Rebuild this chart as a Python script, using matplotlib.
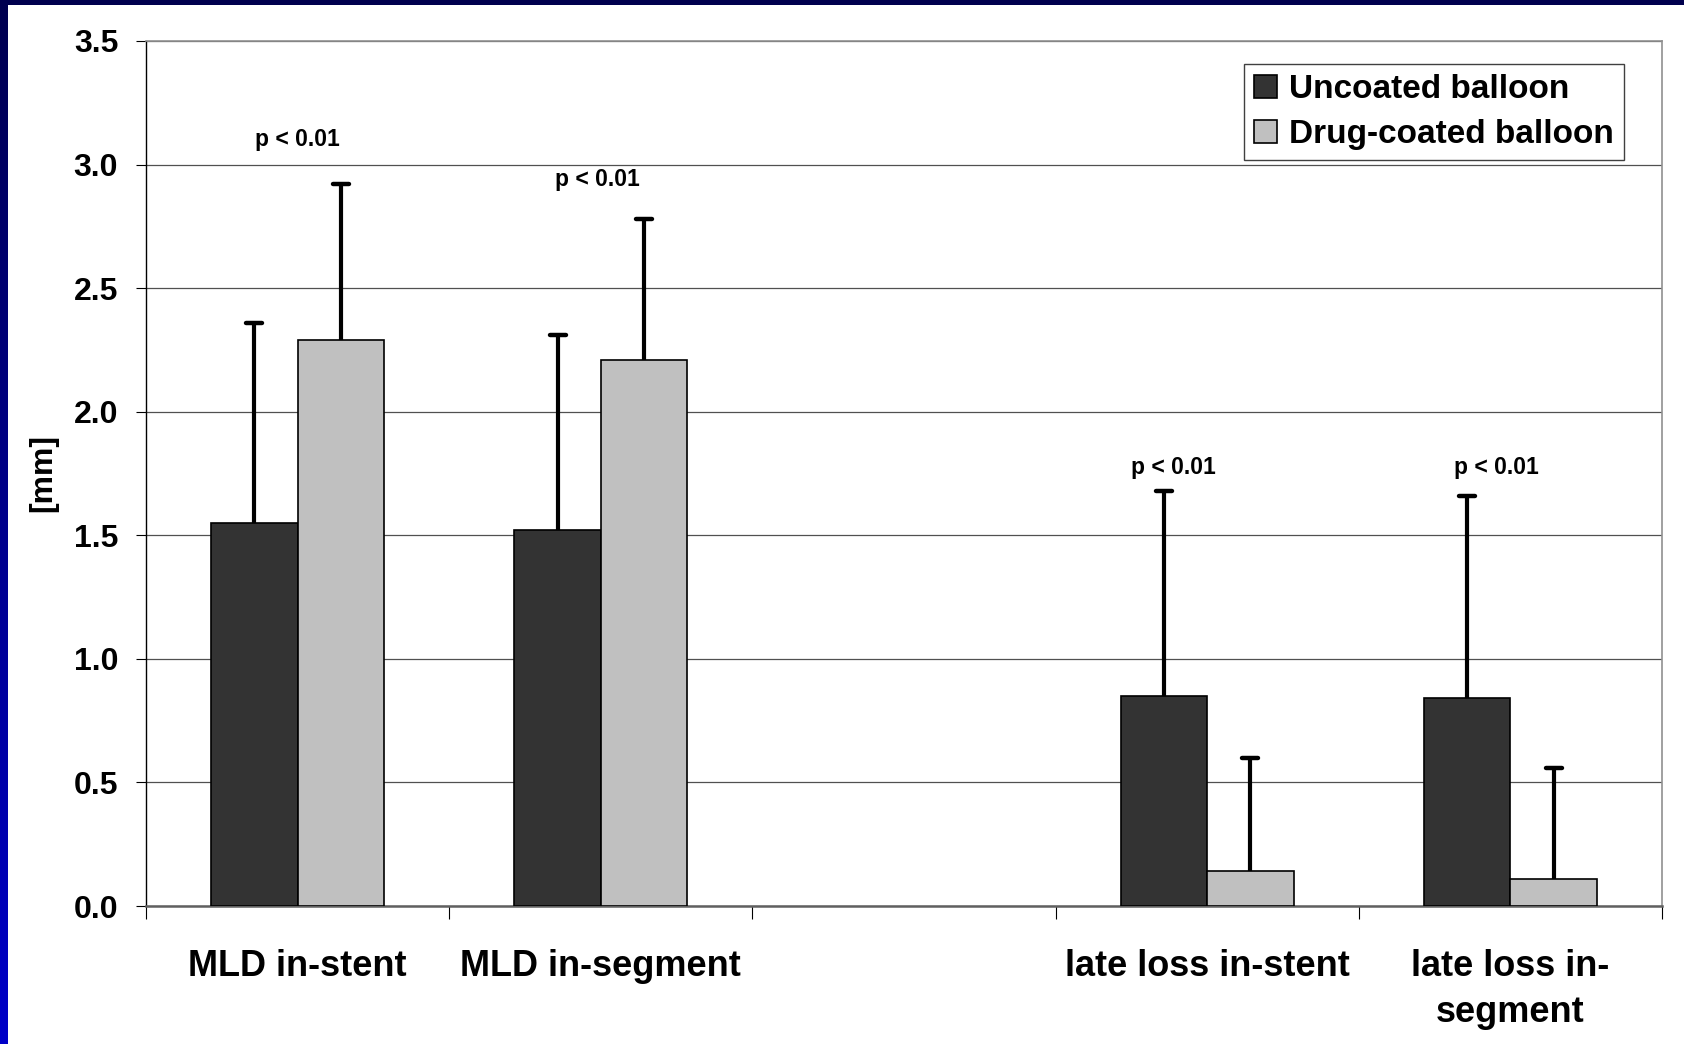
import numpy as np
import matplotlib
matplotlib.use("Agg")
import matplotlib.pyplot as plt
from matplotlib.markers import MarkerStyle
from matplotlib.colors import LinearSegmentedColormap

plt.rcParams['font.family'] = ['Liberation Sans', 'DejaVu Sans']
plt.rcParams['font.weight'] = 'bold'

# Quantitative coronary angiography results (mean + SD)
categories = ["MLD in-stent", "MLD in-segment", "", "late loss in-stent", "late loss in-\nsegment"]
series_names = ["Uncoated balloon", "Drug-coated balloon"]
uncoated_mean = [1.55, 1.52, np.nan, 0.85, 0.84]
uncoated_sd = [0.81, 0.79, np.nan, 0.83, 0.82]
dcb_mean = [2.29, 2.21, np.nan, 0.14, 0.11]
dcb_sd = [0.63, 0.57, np.nan, 0.46, 0.45]
p_labels = ["p < 0.01", "p < 0.01", "", "p < 0.01", "p < 0.01"]
p_label_y = [3.10, 2.94, np.nan, 1.775, 1.775]
p_label_shift = [0.0, -0.01, 0.0, -0.11, -0.045]
y_ticks = [0.0, 0.5, 1.0, 1.5, 2.0, 2.5, 3.0, 3.5]

colors = ["#333333", "#c0c0c0"]

W, H = 1684, 1044
fig = plt.figure(figsize=(W / 100, H / 100), dpi=100, facecolor="white")

# slide frame: navy band on top, blue gradient on the left
top_band = fig.add_axes([0, 1 - 5 / H, 1, 5 / H])
top_band.axis("off")
top_band.add_patch(plt.Rectangle((0, 0), 1, 1, color="#00004e", transform=top_band.transAxes))
left_band = fig.add_axes([0, 0, 8 / W, 1])
grad = np.linspace(0, 1, 256).reshape(-1, 1)
cmap = LinearSegmentedColormap.from_list("frame", ["#0000c8", "#000050"])
left_band.imshow(grad, aspect="auto", cmap=cmap, origin="lower", extent=[0, 1, 0, 1])
left_band.axis("off")

ax = fig.add_axes([146 / W, 1 - 906 / H, (1662 - 146) / W, (906 - 41) / H])

x = np.arange(len(categories))
bw = 0.285
unc = np.array(uncoated_mean)
dcb = np.array(dcb_mean)
unc_sd = np.array(uncoated_sd)
dcb_sd_a = np.array(dcb_sd)

ax.bar(x - bw / 2, unc, bw, color=colors[0], edgecolor="black", linewidth=1.2,
       label=series_names[0], zorder=3)
ax.bar(x + bw / 2, dcb, bw, color=colors[1], edgecolor="black", linewidth=1.2,
       label=series_names[1], zorder=3)

cap = MarkerStyle("_", capstyle="round")
for xs, m, s in [(x - bw / 2, unc, unc_sd), (x + bw / 2, dcb, dcb_sd_a)]:
    ax.errorbar(xs, m, yerr=[np.zeros_like(s), s], fmt="none", ecolor="black",
                elinewidth=3.0, capsize=0, zorder=4)
    ax.plot(xs, m + s, ls="none", marker=cap, ms=11.5, mew=3.2, color="black", zorder=4)

for xi, lab, yl, dx in zip(x, p_labels, p_label_y, p_label_shift):
    if lab:
        ax.text(xi + dx, yl, lab, ha="center", va="center", fontsize=16.5, fontweight="bold")

ax.set_xlim(-0.5, len(categories) - 0.5)
ax.set_ylim(0, 3.5)
ax.set_yticks(y_ticks)
ax.set_yticklabels([f"{v:.1f}" for v in y_ticks], fontsize=23, fontweight="bold")
ax.tick_params(axis="y", direction="out", length=7, width=0.8, pad=13)

ax.set_xticks(x)
ax.set_xticklabels(categories, fontsize=26, fontweight="bold", va="top", linespacing=1.4)
ax.tick_params(axis="x", which="major", length=0, pad=31)
ax.set_xticks(np.arange(-0.5, len(categories), 1.0), minor=True)
ax.tick_params(axis="x", which="minor", direction="out", length=9, width=0.8, color="black")

ax.yaxis.grid(True, color="#505050", linewidth=0.9, zorder=0)
ax.set_axisbelow(True)

ax.spines["left"].set_color("black")
ax.spines["left"].set_linewidth(1.0)
ax.spines["bottom"].set_color("#606060")
ax.spines["bottom"].set_linewidth(1.8)
for sp in ("top", "right"):
    ax.spines[sp].set_color("#909090")
    ax.spines[sp].set_linewidth(1.2)

ax.set_ylabel("[mm]", fontsize=23, fontweight="bold", labelpad=11)

leg = ax.legend(loc="upper right", bbox_to_anchor=(1624 / W, 1 - 64 / H),
                bbox_transform=fig.transFigure, borderaxespad=0, fancybox=False,
                framealpha=1, edgecolor="#404040",
                handlelength=0.7, handleheight=0.7, handletextpad=0.35,
                borderpad=0.3, labelspacing=0.42,
                prop={"family": ["Liberation Sans"], "weight": "bold", "size": 24})
leg.get_frame().set_linewidth(1.0)

fig.savefig("out.png", dpi=100, facecolor="white")
